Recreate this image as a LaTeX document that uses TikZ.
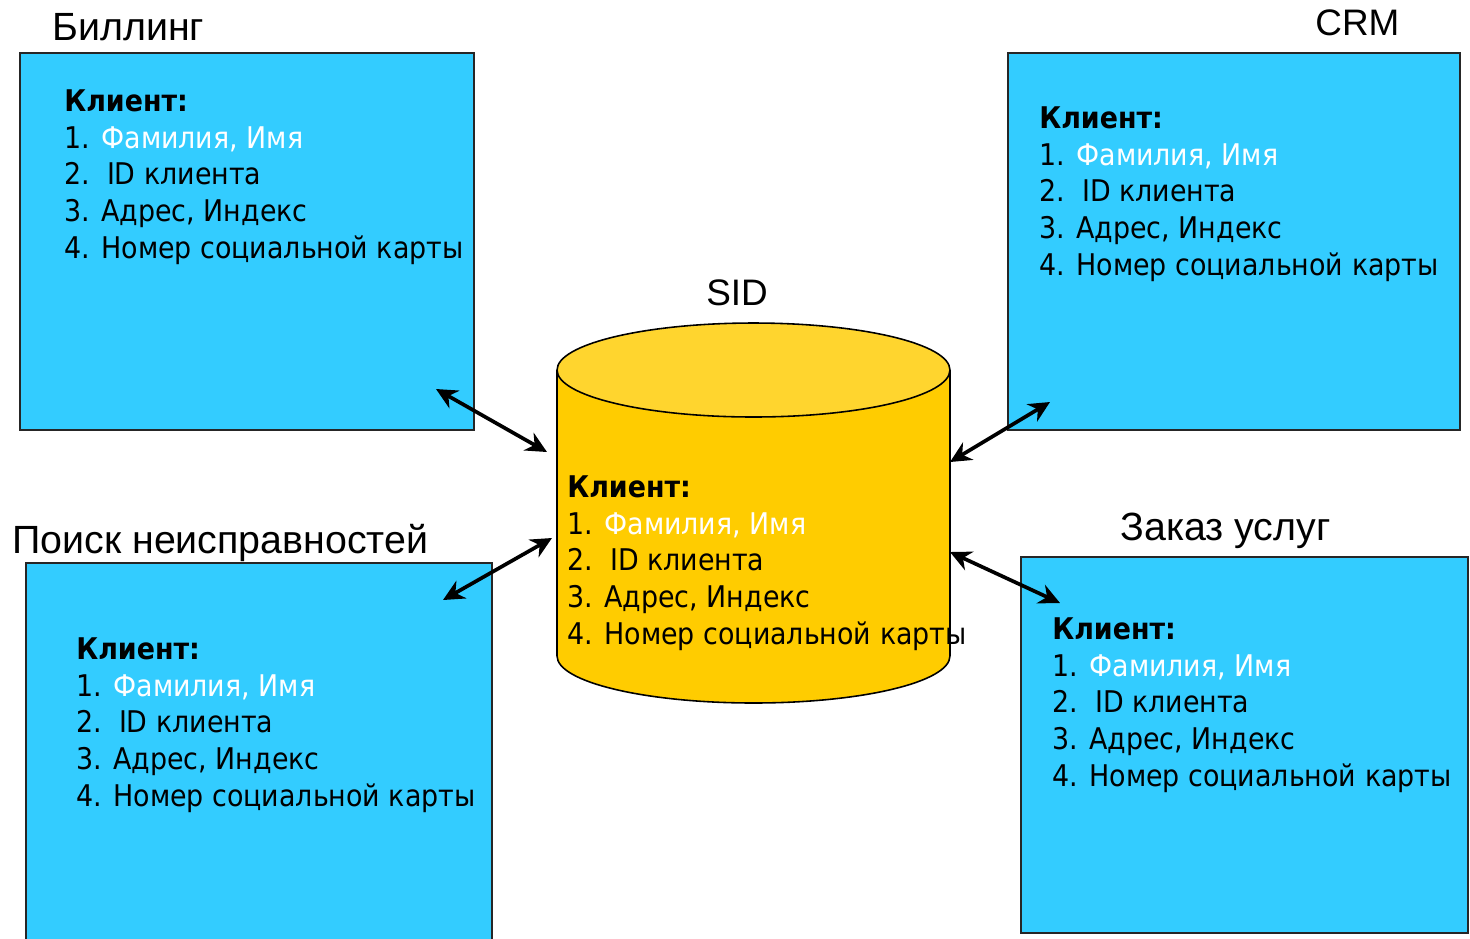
\documentclass[tikz,border=0pt]{standalone}
\usepackage{fontspec}
\setmainfont{DejaVu Sans}[FakeStretch=0.9]
\newfontfamily\titlefont{Liberation Sans}
\usepackage{tikz}
\usetikzlibrary{calc, arrows.meta, positioning}
\usepackage{xcolor}

\definecolor{boxblue}{HTML}{33CCFF}
\definecolor{sidyellow}{HTML}{FFCC00}
\definecolor{sidtop}{HTML}{FFD52E}

\tikzset{
  sysbox/.style={draw=black!85, line width=1.2pt, fill=boxblue, inner sep=0pt},
  listtxt/.style={anchor=north west, inner sep=0pt, align=left,
    font=\fontsize{17}{21}\selectfont},
  systitle/.style={anchor=base west, inner sep=0pt,
    font=\titlefont\fontsize{22.4}{24}\selectfont},
  link/.style={line width=2.1pt, {Stealth[length=12pt,width=11.5pt]}-{Stealth[length=12pt,width=11.5pt]}}
}

\newcommand{\clientlist}{\textbf{Клиент:}\\
  1. \textcolor{white}{Фамилия, Имя}\\
  2.~~ID клиента\\
  3. Адрес, Индекс\\
  4. Номер социальной карты}

\begin{document}
\begin{tikzpicture}[x=0.02cm, y=-0.02cm]
          \useasboundingbox (0,0) rectangle (1470,938);

          % Systems around the database
          \node[sysbox, minimum width=9.08cm, minimum height=7.54cm] (billing) at (247,241.5) {};
          \node[sysbox, minimum width=9.04cm, minimum height=7.54cm] (crm) at (1234,241.5) {};
          \node[sysbox, minimum width=9.32cm, minimum height=7.56cm] (poisk) at (259,752) {};
          \node[sysbox, minimum width=8.94cm, minimum height=7.52cm] (zakaz) at (1244.5,745) {};

          \node[systitle] (billingtitle) at (52,40) {Биллинг};
          \node[systitle, font=\titlefont\fontsize{21}{24}\selectfont] (crmtitle) at (1315,35) {CRM};
          \node[systitle] (poisktitle) at (12,553) {Поиск неисправностей};
          \node[systitle] (zakaztitle) at (1120,540) {Заказ услуг};

          \node[listtxt] (billingtxt) at ($(billing.north west)+(45,37)$) {\clientlist};
          \node[listtxt] (crmtxt) at ($(crm.north west)+(32,54)$) {\clientlist};
          \node[listtxt] (poisktxt) at ($(poisk.north west)+(51,75)$) {\clientlist};
          \node[listtxt] (zakaztxt) at ($(zakaz.north west)+(32,61)$) {\clientlist};

          % SID database cylinder
          \draw[black, line width=0.9pt, fill=sidyellow] (753.5,656) ellipse (3.93cm and 0.94cm);
          \fill[sidyellow] (557,370) rectangle (950,656);
          \draw[black, line width=0.9pt] (557,370) -- (557,656) (950,370) -- (950,656);
          \draw[black, line width=0.9pt, fill=sidtop] (753.5,370) ellipse (3.93cm and 0.94cm);
          \node[anchor=base, inner sep=0pt, font=\titlefont\fontsize{21}{24}\selectfont] (sidtitle) at (737,305) {SID};
          \node[listtxt] (sidtxt) at (567,475) {\clientlist};

          % Exchange arrows
          \coordinate (billingend) at (436,389);
          \coordinate (sidnw) at (547,452);
          \coordinate (poiskend) at (443,600);
          \coordinate (sidsw) at (552,538);
          \coordinate (crmend) at (1050,402);
          \coordinate (sidne) at (950,462);
          \coordinate (zakazend) at (1060,603);
          \coordinate (sidse) at (950,552);
          \draw[link] (billingend) -- (sidnw);
          \draw[link] (poiskend) -- (sidsw);
          \draw[link] (crmend) -- (sidne);
          \draw[link] (zakazend) -- (sidse);
      \end{tikzpicture}
\end{document}
